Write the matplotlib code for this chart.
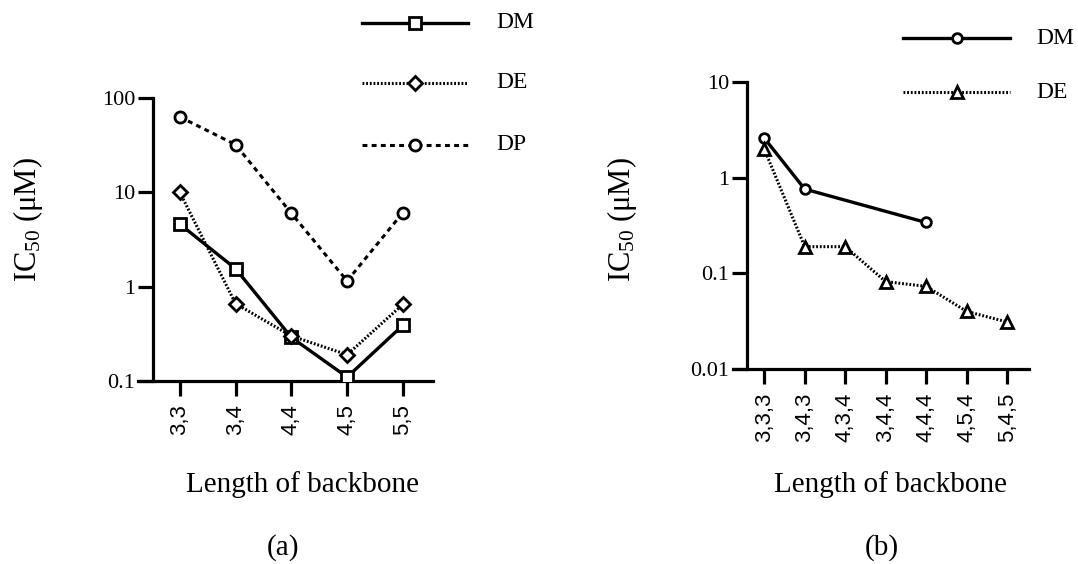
import matplotlib
matplotlib.use("Agg")
import matplotlib.pyplot as plt
from matplotlib.lines import Line2D

plt.rcParams['font.family'] = ['Liberation Serif', 'DejaVu Serif']
plt.rcParams['mathtext.fontset'] = 'custom'
plt.rcParams['mathtext.rm'] = 'Liberation Serif'
plt.rcParams['mathtext.it'] = 'Liberation Serif:italic'

# ---- Data panel (a) ----
cats_a = ["3,3", "3,4", "4,4", "4,5", "5,5"]
dm_a = [4.6, 1.55, 0.29, 0.11, 0.39]
de_a = [10.0, 0.66, 0.30, 0.19, 0.65]
dp_a = [63.0, 32.0, 6.0, 1.15, 6.1]
yticks_a = [0.1, 1, 10, 100]
yticklabels_a = ["0.1", "1", "10", "100"]

# ---- Data panel (b) ----
cats_b = ["3,3,3", "3,4,3", "4,3,4", "3,4,4", "4,4,4", "4,5,4", "5,4,5"]
dm_b = [2.6, 0.76, None, None, 0.34, None, None]
de_b = [2.0, 0.19, 0.19, 0.082, 0.073, 0.040, 0.031]
yticks_b = [0.01, 0.1, 1, 10]
yticklabels_b = ["0.01", "0.1", "1", "10"]

W, H = 1078, 564
fig = plt.figure(figsize=(W / 100, H / 100), dpi=100)

LW_AX = 2.3
LW = 2.4
K = 'black'
LS_SOLID = '-'
LS_DOT = (0, (0.6, 0.6))
LS_DASH = (0, (1.6, 1.4))


def style_axis(ax, yticks, ylabels, ylim, yspine_x, xlim):
    ax.set_yscale('log')
    ax.set_ylim(*ylim)
    ax.set_xlim(*xlim)
    for s in ['top', 'right']:
        ax.spines[s].set_visible(False)
    ax.spines['left'].set_position(('data', yspine_x))
    ax.spines['left'].set_linewidth(LW_AX)
    ax.spines['bottom'].set_linewidth(LW_AX)
    ax.set_yticks(yticks)
    ax.set_yticklabels(ylabels, fontsize=16, family='Liberation Serif')
    ax.yaxis.set_minor_locator(matplotlib.ticker.NullLocator())
    ax.tick_params(axis='y', which='major', length=11, width=LW_AX, pad=2)
    ax.tick_params(axis='x', which='major', length=11, width=LW_AX, pad=6)


ms = dict(markerfacecolor='white', markeredgecolor=K, markeredgewidth=2)

# ---- Panel (a) ----
ax1 = fig.add_axes([138 / W, 1 - 381 / H, (433 - 138) / W, (381 - 98) / H])
xa = list(range(len(cats_a)))
ax1.plot(xa, dm_a, color=K, lw=LW, ls=LS_SOLID, marker='s', markersize=9, **ms, zorder=3)
ax1.plot(xa, de_a, color=K, lw=2.2, ls=LS_DOT, marker='D', markersize=7, **ms, zorder=3)
ax1.plot(xa, dp_a, color=K, lw=2.2, ls=LS_DASH, marker='o', markersize=8, **ms, zorder=3)
style_axis(ax1, yticks_a, yticklabels_a, (0.1, 100), -0.48, (-0.75, 4.54))
ax1.set_xticks(xa)
ax1.set_xticklabels(cats_a, rotation=90, fontsize=16, family='Liberation Sans')

# ---- Panel (b) ----
ax2 = fig.add_axes([733 / W, 1 - 369 / H, (1029 - 733) / W, (369 - 82) / H])
xb = list(range(len(cats_b)))
dm_bx = [x for x, v in zip(xb, dm_b) if v is not None]
dm_bv = [v for v in dm_b if v is not None]
ax2.plot(dm_bx, dm_bv, color=K, lw=LW, ls=LS_SOLID, marker='o', markersize=7, **ms, zorder=3)
ax2.plot(xb, de_b, color=K, lw=2.2, ls=LS_DOT, marker='^', markersize=8, **ms, zorder=3)
style_axis(ax2, yticks_b, yticklabels_b, (0.01, 10), -0.42, (-0.77, 6.54))
ax2.set_xticks(xb)
ax2.set_xticklabels(cats_b, rotation=90, fontsize=16, family='Liberation Sans')

# ---- Axis labels ----
ylab = "IC$_{\\mathrm{50}}$ (\u03bcM)"
fig.text(28 / W, 1 - 220 / H, ylab, rotation=90, ha='center', va='center', fontsize=22)
fig.text(622 / W, 1 - 220 / H, ylab, rotation=90, ha='center', va='center', fontsize=22)
fig.text(303 / W, 1 - 485 / H, "Length of backbone", ha='center', va='center', fontsize=21)
fig.text(890 / W, 1 - 485 / H, "Length of backbone", ha='center', va='center', fontsize=21)
fig.text(283 / W, 1 - 548 / H, "(a)", ha='center', va='center', fontsize=21)
fig.text(882 / W, 1 - 548 / H, "(b)", ha='center', va='center', fontsize=21)


# ---- Legends (manual) ----
def legend_entry(y, x0, x1, xt, label, ls, lw, marker, msize):
    fig.add_artist(Line2D([x0 / W, x1 / W], [1 - y / H, 1 - y / H], transform=fig.transFigure,
                          color=K, lw=lw, ls=ls))
    fig.add_artist(Line2D([(x0 + x1) / 2 / W], [1 - y / H], transform=fig.transFigure,
                          marker=marker, markersize=msize, ls='none', **ms))
    fig.text(xt / W, 1 - y / H, label, ha='left', va='center', fontsize=17)


series_a_names = ["DM", "DE", "DP"]
legend_entry(23, 362, 468, 496, series_a_names[0], LS_SOLID, LW, 's', 9)
legend_entry(83, 362, 468, 496, series_a_names[1], LS_DOT, 2.2, 'D', 7)
legend_entry(145, 362, 468, 496, series_a_names[2], LS_DASH, 2.2, 'o', 8)

series_b_names = ["DM", "DE"]
legend_entry(38, 903, 1010, 1036, series_b_names[0], LS_SOLID, LW, 'o', 7)
legend_entry(92, 903, 1010, 1036, series_b_names[1], LS_DOT, 2.2, '^', 8)

fig.savefig("out.png", dpi=100)
